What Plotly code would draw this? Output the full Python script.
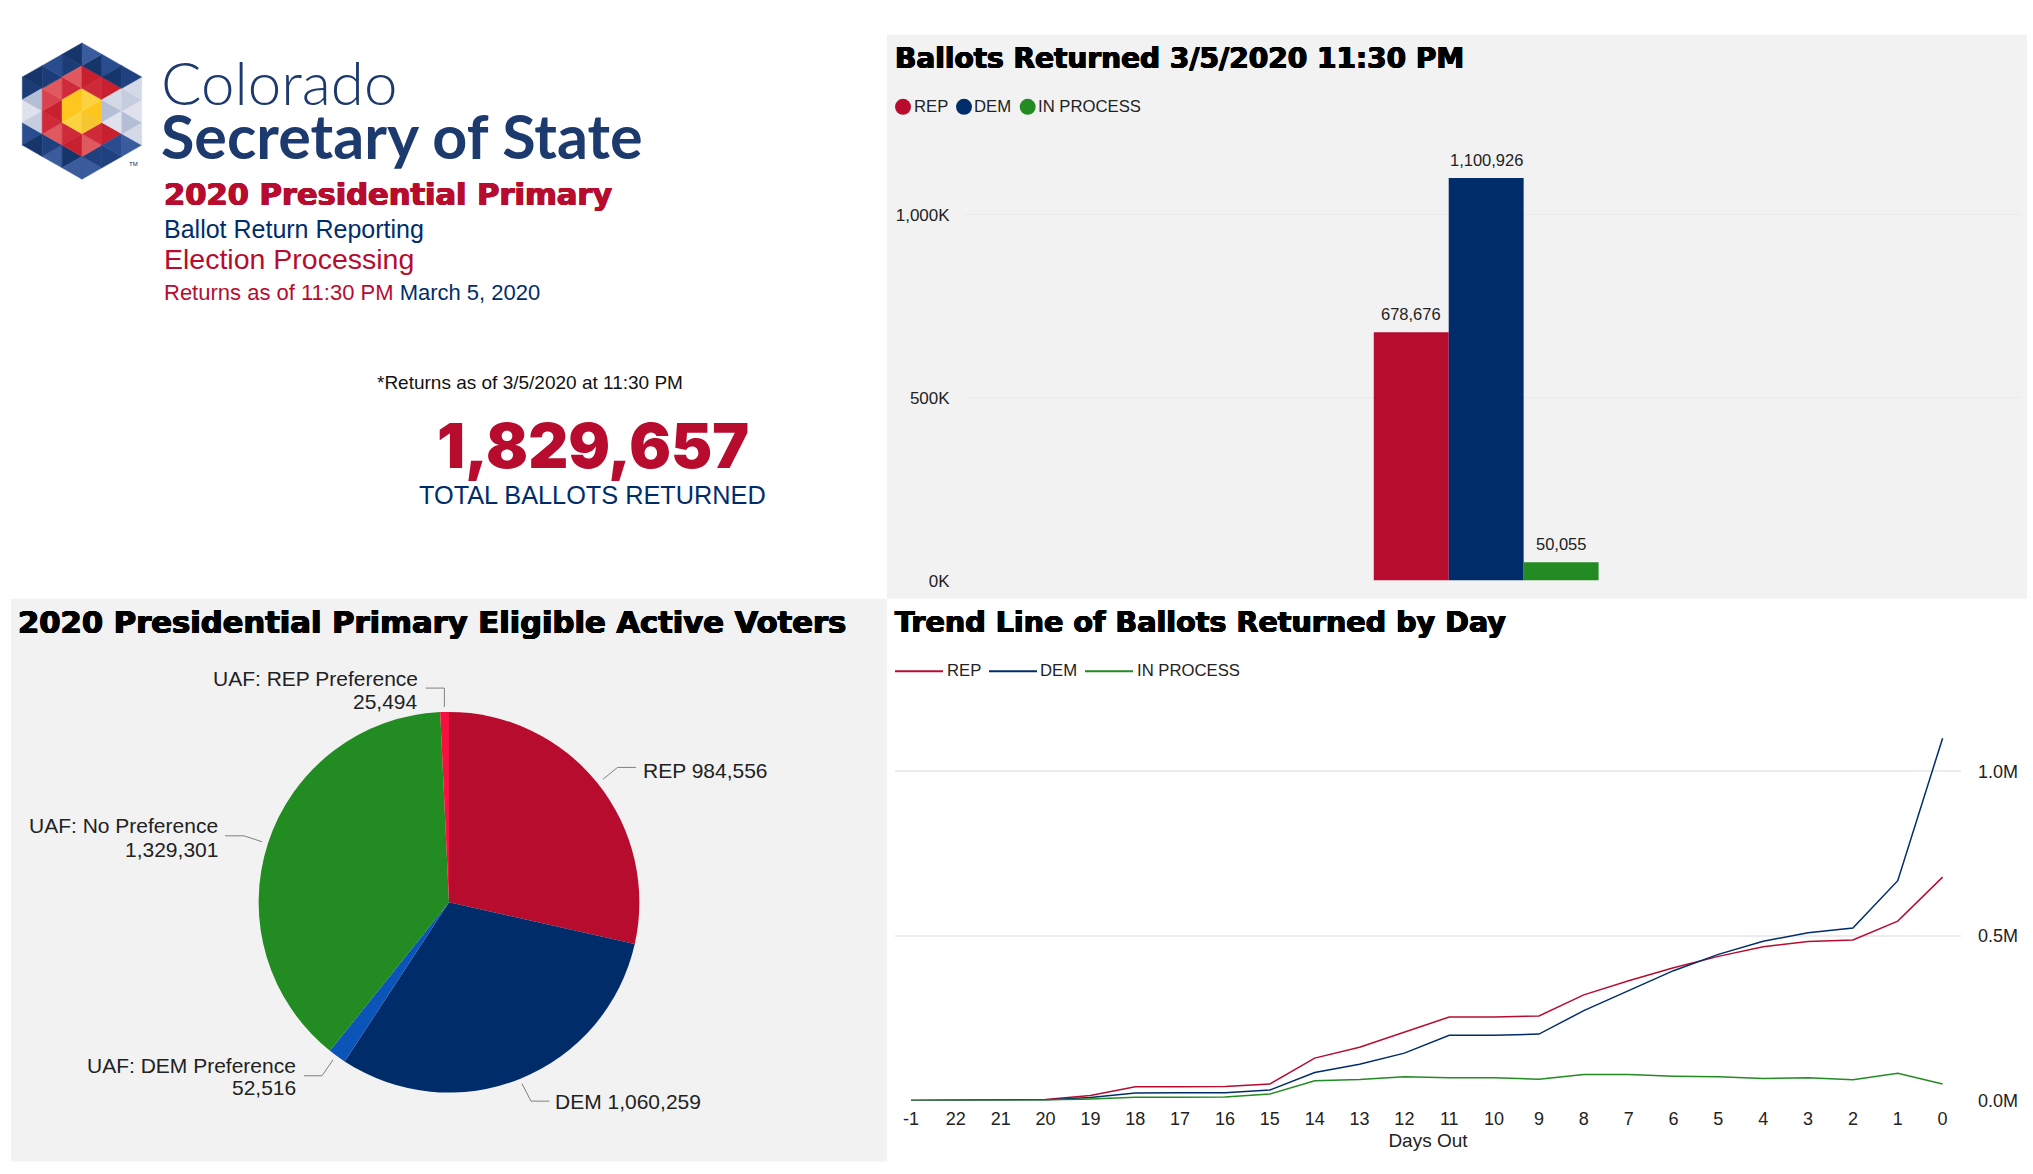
import math
import plotly.graph_objects as go

W, H = 2033, 1174

# ---- data ----
party_names = ["REP", "DEM", "IN PROCESS"]
returned_values = [678676, 1100926, 50055]

pie_labels = ["REP", "DEM", "UAF: DEM Preference", "UAF: No Preference", "UAF: REP Preference"]
pie_values = [984556, 1060259, 52516, 1329301, 25494]

days_out = ["-1", "22", "21", "20", "19", "18", "17", "16", "15", "14", "13", "12",
            "11", "10", "9", "8", "7", "6", "5", "4", "3", "2", "1", "0"]
trend_rep = [0, 500, 1000, 3000, 15000, 42000, 42000, 43000, 50000, 129000, 162000, 207000,
             254000, 254000, 257000, 321000, 364000, 403500, 438000, 467500, 483000, 488000, 545000, 678676]
trend_dem = [0, 300, 700, 2000, 9000, 23000, 23500, 24000, 32000, 85000, 110000, 144000,
             198000, 198500, 202000, 273000, 334000, 394500, 444000, 484000, 510000, 524000, 668000, 1100926]
trend_proc = [0, 0, 200, 1000, 5000, 10000, 10000, 10500, 20000, 60000, 64000, 72000,
              69000, 69500, 65000, 79000, 79000, 74000, 72000, 67000, 69000, 63000, 83000, 50055]

bar_ticks = [0, 500000, 1000000]
bar_ticklabels = ["0K", "500K", "1,000K"]
trend_ticks = [0, 500000, 1000000]
trend_ticklabels = ["0.0M", "0.5M", "1.0M"]

# ---- styles ----
RED, NAVY, GREEN = "#b80c2f", "#002d6a", "#228b22"
UAF_DEM, UAF_REP = "#0b54b8", "#f5103f"
PANEL = "#f2f2f2"
TEXT = "#222222"
BODY = "Liberation Sans"
BLACK = "Inter"
HEAD = "DejaVu Sans"
party_colors = [RED, NAVY, GREEN]
pie_colors = [RED, NAVY, UAF_DEM, GREEN, UAF_REP]


def fx(x):
    return x / W


def fy(y):
    return 1 - y / H


shapes, annotations = [], []


def rect(x0, y0, x1, y1, color):
    shapes.append(dict(type="rect", xref="paper", yref="paper", x0=fx(x0), x1=fx(x1),
                       y0=fy(y0), y1=fy(y1), fillcolor=color, line=dict(width=0), layer="below"))


def poly(points, color=None, line=None, width=1):
    path = "M" + " L".join(f"{fx(x):.6f},{fy(y):.6f}" for x, y in points)
    s = dict(type="path", xref="paper", yref="paper", layer="above")
    if color:
        s.update(path=path + " Z", fillcolor=color, line=dict(color=color, width=0.5))
    else:
        s.update(path=path, line=dict(color=line, width=width))
    shapes.append(s)


def label(x, y, text, size, color=TEXT, family=BODY, anchor="left", weight=None, heavy=False):
    font = dict(size=size, color=color, family=family)
    if weight:
        font["weight"] = weight
    if heavy:
        font["shadow"] = f"0.7px 0 0 {color}, -0.7px 0 0 {color}, 0 0.4px 0 {color}, 0 -0.4px 0 {color}"
    annotations.append(dict(xref="paper", yref="paper", x=fx(x), y=fy(y), text=text, showarrow=False,
                            xanchor=anchor, yanchor="middle", align=anchor, font=font,
                            borderpad=0, borderwidth=0))


# ---- panels ----
rect(887, 35, 2027, 604, PANEL)
rect(11, 604, 887, 1171.5, PANEL)

# ---- logo ----
lh, ls = 19.9, 22.9
lcx, lcy = 82, 112
navy_sh = ["#1c3c78", "#2a4d8f", "#16356b", "#3a5c9c", "#20417f"]
red_sh = ["#c8202f", "#d9434d", "#e0595f", "#cf2a3a"]
gold_sh = ["#ffc61e", "#fbd23f", "#f7c531"]
light_sh = ["#c5cddf", "#d4d9e6", "#b4bfd6", "#dfe2ec"]


def hexdist(x, y):
    return max(abs(x) / (math.sqrt(3) / 2), abs(x) / math.sqrt(3) + abs(y))


idx = 0
for k in range(-3, 3):
    off = 0.5 if k % 2 else 0.0
    off2 = 0.0 if k % 2 else 0.5
    tris = []
    for n in range(-4, 4):
        a, b = n + off, n + 1 + off
        tris.append([(k, a), (k, b), (k + 1, (a + b) / 2)])
        a, b = n + off2, n + 1 + off2
        tris.append([(k + 1, a), (k + 1, b), (k, (a + b) / 2)])
    for t in tris:
        cx = sum(p[0] for p in t) / 3 * (math.sqrt(3) / 2)
        cy = sum(p[1] for p in t) / 3
        d = hexdist(cx, cy)
        if d > 3:
            continue
        wedge = cx > 0 and abs(cy) < cx * 0.577
        if d < 1:
            pal = gold_sh
        elif d < 2:
            pal = light_sh if wedge else red_sh
        else:
            pal = light_sh if (wedge or (cx < 0 and abs(cy) < 0.75)) else navy_sh
        idx += 1
        poly([(lcx + p[0] * lh, lcy - p[1] * ls) for p in t], color=pal[idx % len(pal)])
label(129, 165, "TM", 6, color=NAVY)

# ---- header texts ----
LOGO_BLUE = "#1d3a6e"
label(161, 83, "Colorado", 60, LOGO_BLUE, "Lato", weight=300)
label(161, 137, "Secretary of State", 61, LOGO_BLUE, "Lato", weight=700)
label(164, 196, "2020 Presidential Primary", 30.5, RED, HEAD, weight=700, heavy=True)
label(164, 231, "Ballot Return Reporting", 25, NAVY)
label(164, 261, "Election Processing", 28.5, RED)
label(164, 295, f'<span style="color:{RED}">Returns as of 11:30 PM</span> '
                f'<span style="color:{NAVY}">March 5, 2020</span>', 22, NAVY)
label(377, 386, "*Returns as of 3/5/2020 at 11:30 PM", 19, "#111111")
label(593, 449, "1,829,657", 62, RED, BLACK, anchor="center", weight=900)
label(592, 499, "TOTAL BALLOTS RETURNED", 25.3, NAVY, anchor="center")

# ---- panel titles ----
label(895, 59, "Ballots Returned 3/5/2020 11:30 PM", 28, "#000000", HEAD, weight=700, heavy=True)
label(18, 628, "2020 Presidential Primary Eligible Active Voters", 30.6, "#000000", HEAD, weight=700, heavy=True)
label(895, 627, "Trend Line of Ballots Returned by Day", 28.6, "#000000", HEAD, weight=700, heavy=True)

# ---- bar legend (circles) ----
for cx_, tx_, name, col in zip([903, 964, 1027.7], [914, 974, 1037.7], party_names, party_colors):
    shapes.append(dict(type="circle", xref="paper", yref="paper", x0=fx(cx_ - 8), x1=fx(cx_ + 8),
                       y0=fy(107.7 + 8), y1=fy(107.7 - 8), fillcolor=col, line=dict(width=0)))
    label(tx_, 107, name, 16.7, TEXT)

# ---- line legend ----
for x0_, tx_, name, col in zip([895, 989, 1085], [947, 1040, 1137], party_names, party_colors):
    poly([(x0_, 677), (x0_ + 48, 677)], line=col, width=2)
    label(tx_, 676, name, 16.7, TEXT)

# ---- pie labels and leaders ----
pie_label_spec = [
    (643, [777], "left", [(603, 786), (617.5, 774), (636, 774)]),
    (555, [1111], "left", [(522, 1093), (531, 1110.6), (549.4, 1110.6)]),
    (296, [1075, 1097], "right", [(333, 1069), (322, 1085), (304, 1085)]),
    (218, [833, 857], "right", [(262, 849), (244, 843), (225, 843)]),
    (418, [684, 708], "right", [(444.4, 713), (444.4, 694), (425.7, 694)]),
]
for name, val, (tx_, ys, anc, leader) in zip(pie_labels, pie_values, pie_label_spec):
    if len(ys) == 1:
        label(tx_, ys[0], f"{name} {val:,}", 21, TEXT, anchor=anc)
    else:
        label(tx_, ys[0], name, 21, TEXT, anchor=anc)
        label(tx_, ys[1], f"{val:,}", 21, TEXT, anchor=anc)
    poly(leader, line="#808080", width=1)

# ---- traces ----
fig = go.Figure()
for i, (name, val, col) in enumerate(zip(party_names, returned_values, party_colors)):
    fig.add_trace(go.Bar(x=["Ballots"], y=[val], name=name, marker=dict(color=col, line=dict(width=0)),
                         xaxis="x", yaxis="y", showlegend=False))
    annotations.append(dict(xref="x", yref="y", x="Ballots", y=val, xshift=(i - 1) * 75, yshift=18,
                            text=f"{val:,}", showarrow=False, xanchor="center", yanchor="middle",
                            font=dict(size=16.5, color=TEXT, family=BODY)))

fig.add_trace(go.Pie(labels=pie_labels, values=pie_values, sort=False, direction="clockwise", rotation=0,
                     marker=dict(colors=pie_colors, line=dict(width=0)), textinfo="none",
                     domain=dict(x=[fx(449 - 192), fx(449 + 192)], y=[fy(1102), fy(718)]),
                     showlegend=False))

for name, vals, col in zip(party_names, [trend_rep, trend_dem, trend_proc], party_colors):
    fig.add_trace(go.Scatter(x=days_out, y=vals, name=name, mode="lines", line=dict(color=col, width=1.5),
                             xaxis="x2", yaxis="y2", showlegend=False))

GRID_BAR = "#eaeaea"
GRID_LINE = "#ececec"
fig.update_layout(
    width=W, height=H, autosize=False,
    margin=dict(l=0, r=0, t=0, b=0, pad=0),
    paper_bgcolor="white", plot_bgcolor="rgba(0,0,0,0)",
    barmode="group", bargap=0.787, bargroupgap=0,
    shapes=shapes, annotations=annotations,
    font=dict(family=BODY, color=TEXT),
    xaxis=dict(domain=[fx(964.6), fx(2020)], anchor="y", visible=False,
               type="category", range=[-0.4942, 0.5058]),
    yaxis=dict(domain=[fy(585.6), fy(142.9)], anchor="x", range=[0, 1200000],
               tickvals=bar_ticks, ticktext=bar_ticklabels, showgrid=True, gridcolor=GRID_BAR,
               gridwidth=1, zeroline=False, showline=False, ticks="", ticklabelstandoff=14,
               tickfont=dict(size=17, color=TEXT, family=BODY)),
    xaxis2=dict(domain=[fx(895), fx(1961)], anchor="y2", type="category", categoryorder="array",
                categoryarray=days_out, range=[-0.357, 23.41], tickmode="array", tickvals=days_out,
                ticktext=days_out, showgrid=False, zeroline=False, showline=False, ticks="",
                tickfont=dict(size=18, color=TEXT, family=BODY), ticklabelstandoff=5,
                title=dict(text="Days Out", font=dict(size=19, color=TEXT, family=BODY), standoff=6)),
    yaxis2=dict(domain=[fy(1110), fy(712)], anchor="x2", side="right", range=[0, 1198800],
                tickvals=trend_ticks, ticktext=trend_ticklabels, showgrid=True, gridcolor=GRID_LINE,
                gridwidth=1.5, zeroline=False, showline=False, ticks="", ticklabelstandoff=16,
                tickfont=dict(size=18, color=TEXT, family=BODY)),
)

fig.write_html("out.html", config=dict(displayModeBar=False),
               post_script="document.body.style.margin='0';document.body.style.overflow='hidden';")
